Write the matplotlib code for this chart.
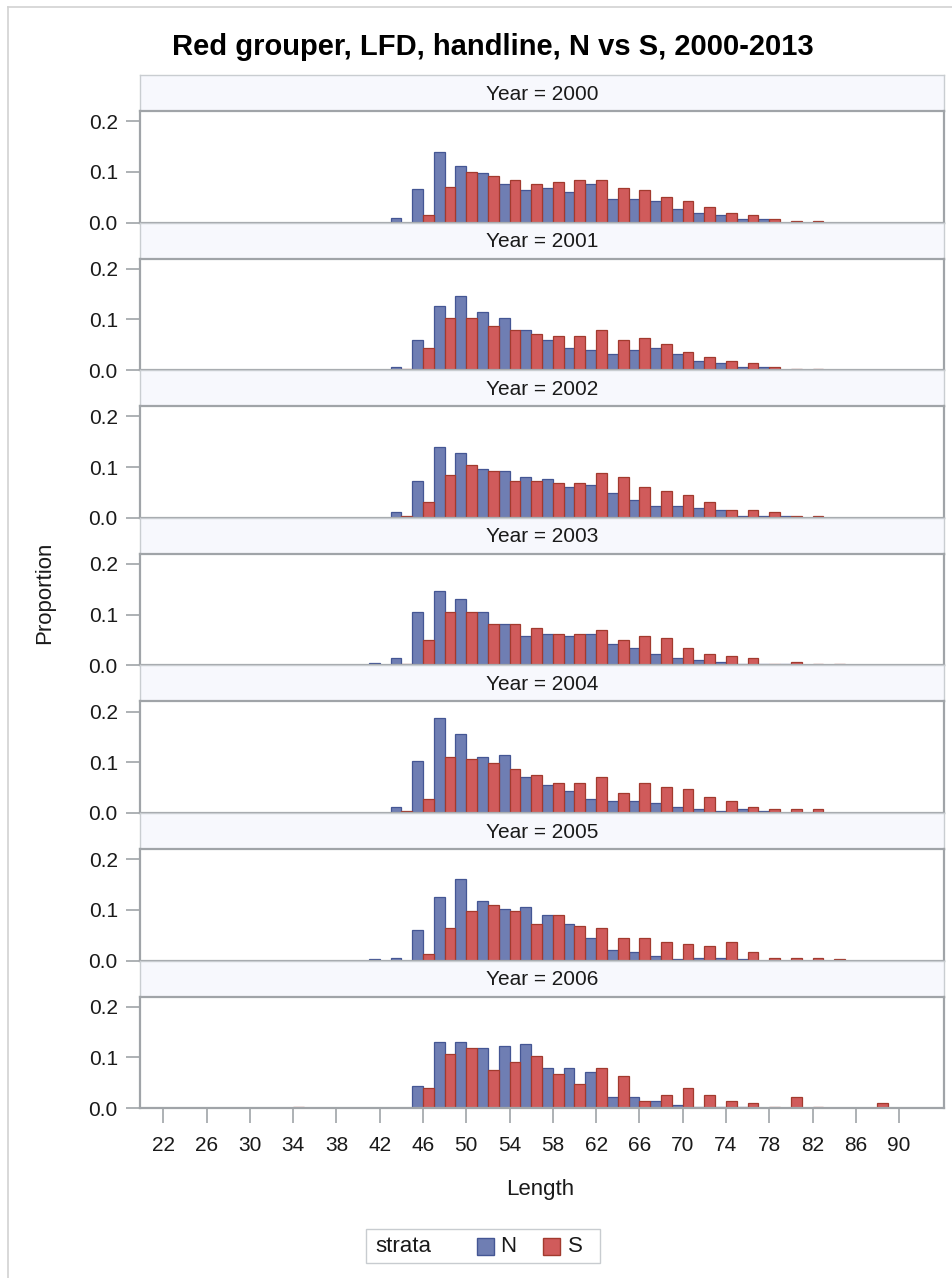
import numpy as np
import matplotlib
matplotlib.use("Agg")
import matplotlib.pyplot as plt
from matplotlib.patches import Rectangle
from matplotlib.lines import Line2D

plt.rcParams['font.family'] = ['Liberation Sans', 'DejaVu Sans']

# Length bins (cm), two-cm classes
lengths = np.arange(34, 90, 2)
years = [2000, 2001, 2002, 2003, 2004, 2005, 2006]

#            34 36 38 40 42    44    46    48    50    52    54    56    58    60    62    64    66    68    70    72    74    76    78    80    82    84    86  88
n_2000 = [0, 0, 0, 0, 0,    .010, .067, .140, .112, .097, .076, .064, .068, .060, .076, .047, .047, .043, .027, .019, .015, .007, .007, 0,    0,    0,    0, 0]
s_2000 = [0, 0, 0, 0, 0,    0,    .015, .071, .100, .092, .084, .076, .080, .084, .084, .068, .064, .051, .043, .031, .019, .015, .007, .003, .003, 0,    0, 0]
n_2001 = [0, 0, 0, 0, 0,    .007, .059, .127, .147, .115, .103, .079, .059, .043, .039, .031, .039, .043, .031, .019, .015, .007, .007, 0,    0,    0,    0, 0]
s_2001 = [0, 0, 0, 0, 0,    .003, .043, .103, .103, .087, .079, .071, .067, .067, .079, .059, .063, .051, .035, .027, .019, .015, .007, .003, .003, 0,    0, 0]
n_2002 = [0, 0, 0, 0, 0,    .012, .072, .140, .128, .096, .092, .080, .076, .060, .064, .048, .036, .024, .024, .020, .016, .004, .004, .004, 0,    0,    0, 0]
s_2002 = [0, 0, 0, 0, 0,    .004, .032, .084, .104, .092, .072, .072, .068, .068, .088, .080, .060, .052, .044, .032, .016, .016, .012, .004, .004, 0,    0, 0]
n_2003 = [0, 0, 0, 0, .004, .014, .106, .146, .130, .106, .082, .058, .062, .058, .062, .042, .034, .022, .014, .010, .006, .003, .003, .003, 0,    0,    0, 0]
s_2003 = [0, 0, 0, 0, 0,    .003, .050, .106, .106, .082, .082, .074, .062, .062, .070, .050, .058, .054, .034, .022, .018, .014, .003, .006, .003, .003, 0, 0]
n_2004 = [0, 0, 0, 0, 0,    .011, .103, .187, .155, .111, .115, .071, .055, .043, .027, .023, .023, .019, .011, .007, .003, .007, .003, 0,    0,    0,    0, 0]
s_2004 = [0, 0, 0, 0, 0,    .003, .027, .111, .107, .099, .087, .075, .059, .059, .071, .039, .059, .051, .047, .031, .023, .011, .007, .007, .007, 0,    0, 0]
n_2005 = [0, 0, 0, 0, .004, .006, .061, .125, .161, .117, .101, .105, .089, .073, .045, .021, .017, .009, .003, .005, .005, .003, 0,    0,    0,    0,    0, 0]
s_2005 = [0, 0, 0, 0, 0,    0,    .013, .065, .097, .109, .097, .073, .089, .069, .065, .045, .045, .037, .033, .029, .037, .017, .006, .006, .006, .003, 0, 0]
n_2006 = [0, 0, 0, 0, 0,    0,    .043, .131, .131, .119, .123, .127, .079, .079, .071, .022, .022, .015, .007, .003, .003, .003, 0,    0,    0,    0,    0, 0]
s_2006 = [.003, 0, 0, 0, 0, 0,    .039, .107, .119, .075, .091, .103, .067, .047, .079, .063, .015, .027, .039, .027, .015, .011, .003, .023, .003, 0,    0, .011]

n_series = [n_2000, n_2001, n_2002, n_2003, n_2004, n_2005, n_2006]
s_series = [s_2000, s_2001, s_2002, s_2003, s_2004, s_2005, s_2006]

x_ticks = list(range(22, 91, 4))
y_ticks = [0.0, 0.1, 0.2]

N_FILL, N_EDGE = '#6F7EB3', '#445694'
S_FILL, S_EDGE = '#D05B5B', '#A23A2E'
FRAME = '#A0A4A8'
HEADER_FILL = '#F7F8FD'
HEADER_EDGE = '#C9CDD1'
TEXT = '#1A1A1A'

W, H = 952, 1278
fig = plt.figure(figsize=(W / 100, H / 100), dpi=100)


def px_axes(left, top, right, bottom):
    return fig.add_axes([left / W, 1 - bottom / H, (right - left) / W, (bottom - top) / H])


LEFT, RIGHT = 140, 944
TOP0, PERIOD, HEADER_H = 75, 147.6, 36

for i, (yr, nv, sv) in enumerate(zip(years, n_series, s_series)):
    ht = TOP0 + i * PERIOD
    hb = ht + HEADER_H
    pb = ht + PERIOD

    # cell header
    hax = px_axes(LEFT, ht, RIGHT, hb)
    hax.set_facecolor(HEADER_FILL)
    hax.set_xticks([])
    hax.set_yticks([])
    for sp in hax.spines.values():
        sp.set_color(HEADER_EDGE)
        sp.set_linewidth(1.0)
    hax.text(0.5, 0.47, f"Year = {yr}", ha='center', va='center',
             fontsize=15, color=TEXT, transform=hax.transAxes)

    ax = px_axes(LEFT, hb, RIGHT, pb)
    nv = np.asarray(nv, dtype=float)
    sv = np.asarray(sv, dtype=float)
    mn = nv > 0
    ms = sv > 0
    ax.bar(lengths[mn] - 0.5, nv[mn], width=1.0, color=N_FILL,
           edgecolor=N_EDGE, linewidth=0.9)
    ax.bar(lengths[ms] + 0.5, sv[ms], width=1.0, color=S_FILL,
           edgecolor=S_EDGE, linewidth=0.9)
    ax.set_xlim(19.85, 94.15)
    ax.set_ylim(0, 0.22)
    ax.set_yticks(y_ticks)
    ax.set_yticklabels([f"{v:.1f}" for v in y_ticks])
    ax.tick_params(axis='y', length=10, width=1.2, color=FRAME, pad=6,
                   labelsize=15, labelcolor=TEXT)
    for sp in ax.spines.values():
        sp.set_color(FRAME)
        sp.set_linewidth(1.6)
    if i == len(years) - 1:
        ax.set_xticks(x_ticks)
        ax.set_xticklabels([str(t) for t in x_ticks])
        ax.tick_params(axis='x', length=11, width=1.2, color=FRAME, pad=9,
                       labelsize=15, labelcolor=TEXT)
    else:
        ax.set_xticks([])

# titles and axis labels
fig.text(493 / W, 1 - 47 / H, "Red grouper, LFD, handline, N vs S, 2000-2013",
         ha='center', va='center', fontsize=21, fontweight='bold', color='#000000')
fig.text(45 / W, 1 - 593 / H, "Proportion", rotation=90, ha='center', va='center',
         fontsize=16, color=TEXT)
fig.text(540 / W, 1 - 1190 / H, "Length", ha='center', va='center',
         fontsize=16, color=TEXT)

# legend
def fig_rect(x0, y0, x1, y1, **kw):
    fig.patches.append(Rectangle((x0 / W, 1 - y1 / H), (x1 - x0) / W, (y1 - y0) / H,
                                 transform=fig.transFigure, **kw))

fig_rect(366, 1229, 600, 1263, facecolor='white', edgecolor='#C8CCD0', linewidth=1.0)
fig.text(375 / W, 1 - 1246 / H, "strata", ha='left', va='center', fontsize=16, color=TEXT)
fig_rect(477, 1238, 494, 1255, facecolor=N_FILL, edgecolor=N_EDGE, linewidth=1.0)
fig.text(500 / W, 1 - 1246 / H, "N", ha='left', va='center', fontsize=16, color=TEXT)
fig_rect(543, 1238, 560, 1255, facecolor=S_FILL, edgecolor=S_EDGE, linewidth=1.0)
fig.text(568 / W, 1 - 1246 / H, "S", ha='left', va='center', fontsize=16, color=TEXT)

# outer frame (left and top edges)
fig.lines.append(Line2D([7.5 / W, 7.5 / W], [0, 1 - 7 / H], transform=fig.transFigure,
                        color='#D2D2D2', linewidth=1.2))
fig.lines.append(Line2D([7.5 / W, 1], [1 - 7 / H, 1 - 7 / H], transform=fig.transFigure,
                        color='#D2D2D2', linewidth=1.2))

fig.savefig("out.png", dpi=100, facecolor='white')
